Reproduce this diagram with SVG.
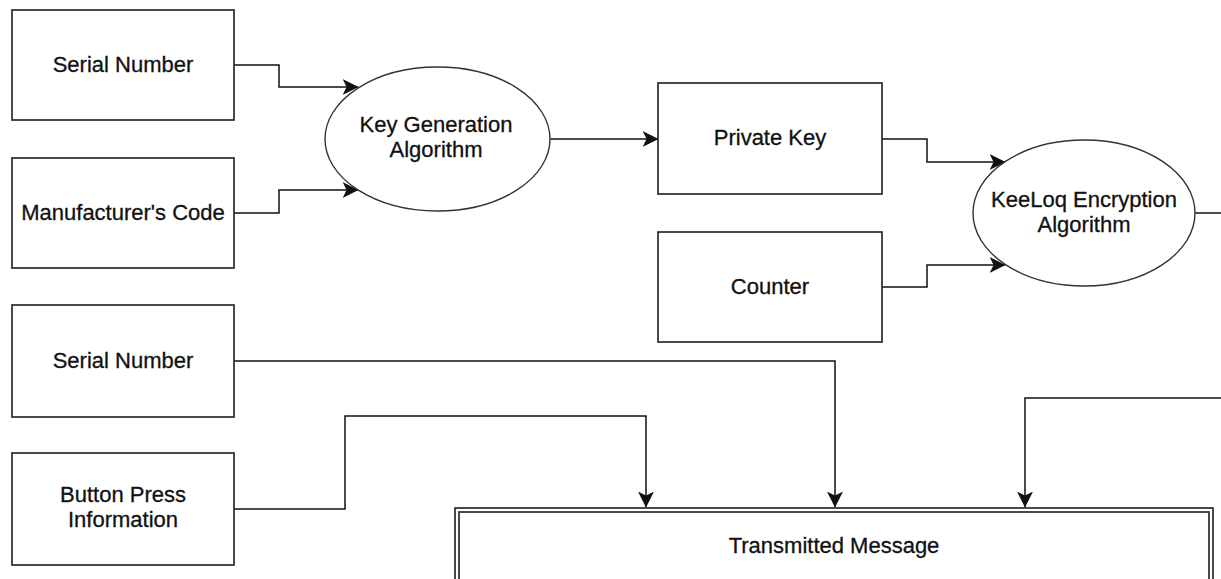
<svg xmlns="http://www.w3.org/2000/svg" width="1221" height="579" viewBox="0 0 1221 579">
  <style>
    .box { fill: #ffffff; stroke: #2b2b2b; stroke-width: 1.7; }
    .oval { fill: #ffffff; stroke: #333333; stroke-width: 1.4; }
    .label { font-family: "Liberation Sans", Arial, Helvetica, sans-serif; font-size: 22px; fill: #111111; stroke: #111111; stroke-width: 0.3; text-anchor: middle; }
    .wire { fill: none; stroke: #111111; stroke-width: 1.5; }
  </style>
  <defs>
    <marker id="arrow" markerUnits="userSpaceOnUse" markerWidth="16" markerHeight="16" viewBox="0 0 14 14" refX="13.5" refY="7" orient="auto">
      <path d="M14,7 L0,0 L3.5,7 L0,14 Z" fill="#111111"/>
    </marker>
  </defs>

  <rect width="1221" height="579" fill="#ffffff"/>

  <!-- connectors -->
  <g id="connectors">
    <path class="wire" d="M234,65 H279 V87 H358" marker-end="url(#arrow)"/>
    <path class="wire" d="M234,213 H279 V190 H358" marker-end="url(#arrow)"/>
    <path class="wire" d="M550,139 H658" marker-end="url(#arrow)"/>
    <path class="wire" d="M882,139 H927 V162 H1005" marker-end="url(#arrow)"/>
    <path class="wire" d="M882,287 H927 V265 H1005" marker-end="url(#arrow)"/>
    <path class="wire" d="M1195,213 H1221"/>
    <path class="wire" d="M234,361 H835 V507" marker-end="url(#arrow)"/>
    <path class="wire" d="M234,509 H345 V416 H646 V507" marker-end="url(#arrow)"/>
    <path class="wire" d="M1221,398 H1025 V507" marker-end="url(#arrow)"/>
  </g>

  <!-- inputs to key generation -->
  <g id="serial-number-1">
    <rect class="box" x="12" y="10" width="222" height="110"/>
    <text class="label" x="123" y="72">Serial Number</text>
  </g>
  <g id="manufacturer-code">
    <rect class="box" x="12" y="158" width="222" height="110"/>
    <text class="label" x="123" y="220">Manufacturer's Code</text>
  </g>

  <g id="key-generation">
    <ellipse class="oval" cx="437.5" cy="139" rx="112.5" ry="72"/>
    <text class="label" x="436" y="132">Key Generation</text>
    <text class="label" x="436" y="157">Algorithm</text>
  </g>

  <g id="private-key">
    <rect class="box" x="658" y="83" width="224" height="111"/>
    <text class="label" x="770" y="145">Private Key</text>
  </g>
  <g id="counter">
    <rect class="box" x="658" y="232" width="224" height="110"/>
    <text class="label" x="770" y="294">Counter</text>
  </g>

  <g id="keeloq-encryption">
    <ellipse class="oval" cx="1084" cy="213" rx="111" ry="73"/>
    <text class="label" x="1084" y="207">KeeLoq Encryption</text>
    <text class="label" x="1084" y="232">Algorithm</text>
  </g>

  <!-- plaintext inputs -->
  <g id="serial-number-2">
    <rect class="box" x="12" y="305" width="222" height="112"/>
    <text class="label" x="123" y="368">Serial Number</text>
  </g>
  <g id="button-press">
    <rect class="box" x="12" y="453" width="222" height="112"/>
    <text class="label" x="123" y="502">Button Press</text>
    <text class="label" x="123" y="527">Information</text>
  </g>

  <!-- output frame with double border -->
  <g id="transmitted-message">
    <rect class="box" x="455" y="508" width="758" height="120"/>
    <rect fill="none" stroke="#2b2b2b" stroke-width="1.7" x="459" y="512" width="750" height="112"/>
    <text class="label" x="834" y="553">Transmitted Message</text>
  </g>
</svg>
